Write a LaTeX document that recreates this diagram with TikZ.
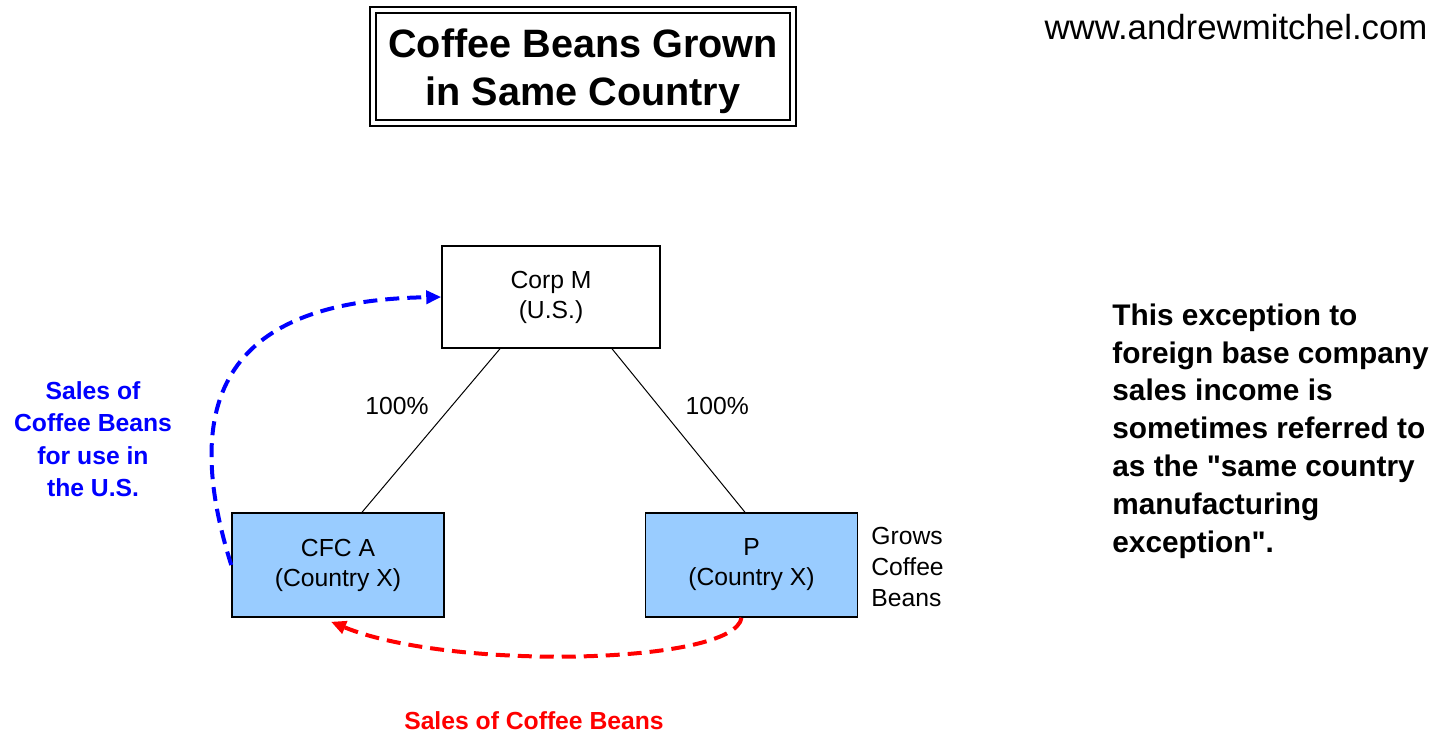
\documentclass[tikz,border=0pt]{standalone}
\usepackage{fontspec}
\setmainfont{Liberation Sans}
\usepackage{xcolor}
\usetikzlibrary{arrows.meta}
\definecolor{boxblue}{HTML}{99CCFF}
\begin{document}
\begin{tikzpicture}[x=0.5pt,y=-0.5pt,every node/.style={align=center,font=\fontsize{12.35}{15}\selectfont},
      corp/.style={draw,line width=0.75pt,minimum width=109pt,minimum height=51pt},
      cfc/.style={corp,fill=boxblue,minimum width=106pt,minimum height=52pt},
      note/.style={inner sep=0pt},
      sale/.style={line width=2pt,dash pattern=on 7pt off 4pt,-{Triangle[length=7.5pt,width=6.5pt]}}]
      \useasboundingbox (0,0) rectangle (1441,734);
      \draw[line width=1.4pt] (370,7) rectangle (796,126);
      \draw[line width=0.85pt] (376,13) rectangle (790,120);
      \node[note,font=\fontsize{19.8}{24}\selectfont\bfseries] (title) at (583,71) {Coffee Beans Grown\\in Same Country};
      \node[note,font=\fontsize{17.4}{21}\selectfont] (web) at (1236,27) {www.andrewmitchel.com};
      \node[corp] (m) at (551,297) {Corp M\\(U.S.)};
      \node[cfc] (a) at (338,565) {CFC A\\(Country X)};
      \node[cfc] (p) at (751.5,565) {P\\(Country X)};
      \draw[line width=0.5pt] ([shift={(-51,0)}]m.south) -- ([shift={(24,0)}]a.north) node[pos=0.35,left=8pt] {100\%};
      \draw[line width=0.5pt] ([shift={(61,0)}]m.south) -- ([shift={(-6.5,0)}]p.north) node[pos=0.35,right=10pt] {100\%};
      \node[note,anchor=west,align=left,font=\fontsize{12.35}{15.5}\selectfont] (grow) at (871,567) {Grows\\Coffee\\Beans};
      \draw[sale,blue] (a.west) .. controls +(-60,-190) and +(-190,3) .. (m.west);
      \draw[sale,red] ([shift={(-10,0)}]p.south) .. controls +(-7,47) and +(119,49) .. ([shift={(-7,4)}]a.south);
      \node[note,text=blue,font=\fontsize{12.35}{16.2}\selectfont\bfseries] (usnote) at (93,439) {Sales of\\Coffee Beans\\for use in\\the U.S.};
      \node[note,text=red,font=\fontsize{12.35}{15}\selectfont\bfseries] (salesnote) at (534,721) {Sales of Coffee Beans};
      \node[note,anchor=west,align=left,font=\fontsize{14.9}{18.9}\selectfont\bfseries] (excnote) at (1112,431) {This exception to\\foreign base company\\sales income is\\sometimes referred to\\as the \textquotedbl same country\\manufacturing\\exception\textquotedbl.};
\end{tikzpicture}
\end{document}
